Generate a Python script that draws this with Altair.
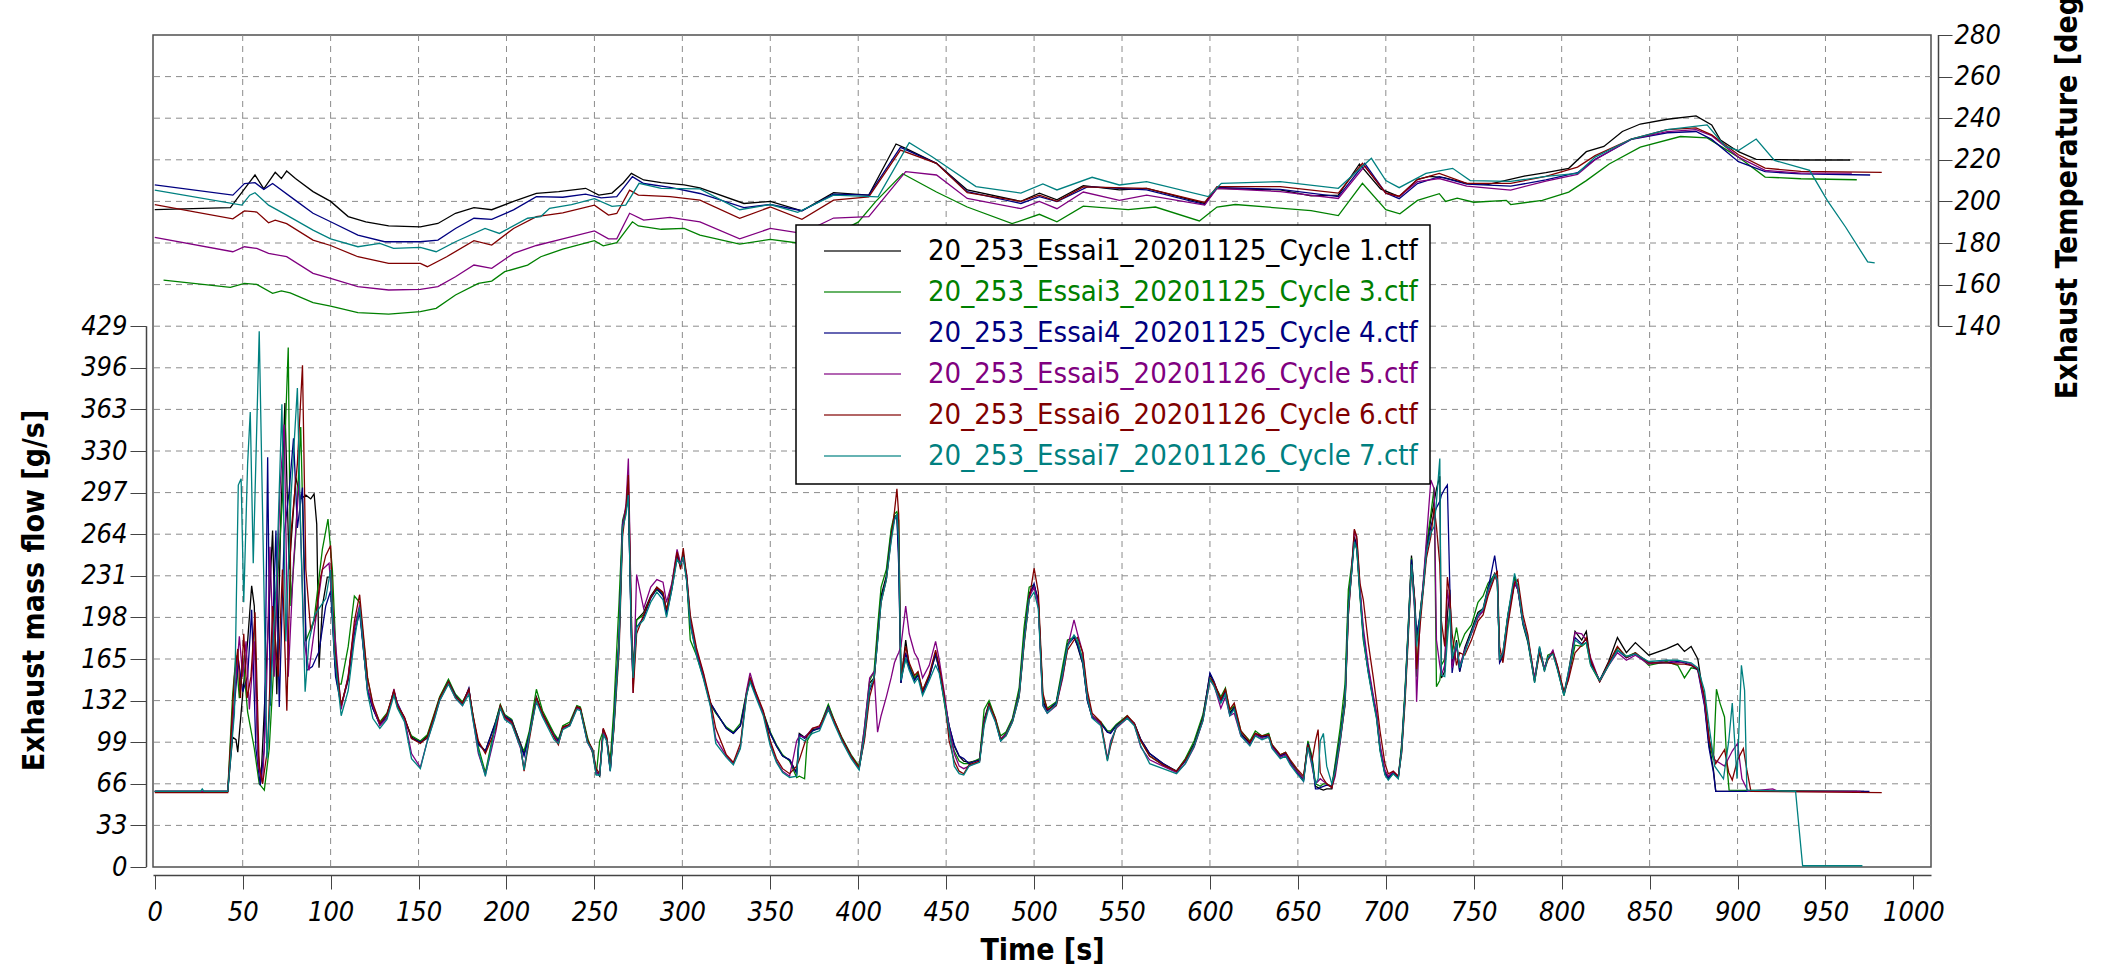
import altair as alt
import pandas as pd

# ---------------------------------------------------------------- series
NAMES = [
    "20_253_Essai1_20201125_Cycle 1.ctf",
    "20_253_Essai3_20201125_Cycle 3.ctf",
    "20_253_Essai4_20201125_Cycle 4.ctf",
    "20_253_Essai5_20201126_Cycle 5.ctf",
    "20_253_Essai6_20201126_Cycle 6.ctf",
    "20_253_Essai7_20201126_Cycle 7.ctf",
]
COLORS = ["#000000", "#008000", "#000080", "#800080", "#800000", "#008080"]

X_TICKS = list(range(0, 1001, 50))
FLOW_TICKS = [0, 33, 66, 99, 132, 165, 198, 231, 264, 297, 330, 363, 396, 429]
TEMP_TICKS = [140, 160, 180, 200, 220, 240, 260, 280]
GRID_X = list(range(50, 951, 50))
GRID_Y = [33 * k for k in range(1, 20)]

# ------------------------------------------------ exhaust mass flow [g/s]
# start of each run (warm-up and first accelerations), [time, flow]
HEAD_1 = [[0, 60], [41.5, 60], [44.3, 103], [46.2, 101], [47.2, 91], [50, 137], [52.8, 179], [55.1, 223],
          [56.6, 207], [58.5, 94], [60.4, 69], [63.2, 151], [67, 267], [69.4, 137], [71.7, 278], [74, 368],
          [76.4, 236], [80.2, 309], [83, 292], [85.9, 295], [88.7, 292], [90.6, 296], [92.1, 272], [93.4, 158],
          [95.3, 207], [98.1, 230], [100, 230], [102.5, 160]]
HEAD_3 = [[0, 60], [41.5, 60], [44.3, 137], [46.2, 168], [48.1, 134], [50, 168], [52.8, 123], [56.6, 94],
          [59.4, 66], [62.3, 61], [65.1, 94], [67.9, 165], [70.2, 236], [72.6, 292], [74.5, 357], [75.9, 412],
          [77.4, 207], [80.2, 264], [83, 349], [85.9, 179], [90.6, 196], [95.3, 252], [98.5, 276], [101, 236],
          [103.8, 145]]
HEAD_4 = [[0, 60], [41.5, 60], [45.3, 128], [47.5, 165], [50, 139], [52.8, 151], [55.1, 204], [57.5, 94],
          [60, 65], [62.3, 94], [64.2, 325], [65.7, 128], [68.9, 267], [70.8, 127], [73.6, 264], [76.4, 298],
          [78.9, 340], [81.1, 269], [84, 301], [86.4, 156], [89.6, 159], [93.4, 171], [97.2, 207], [100, 219],
          [102.8, 151]]
HEAD_5 = [[0, 60], [41.5, 60], [45.3, 134], [48.1, 183], [50, 151], [51.9, 179], [53.8, 125], [56.6, 179],
          [58.9, 80], [61.3, 67], [63.2, 123], [65.5, 254], [67.9, 151], [71.3, 303], [73.6, 351], [75.9, 151],
          [78.9, 241], [82.1, 306], [84.9, 179], [87.7, 156], [91.5, 196], [95.3, 236], [99.1, 241], [101, 207]]
HEAD_6 = [[0, 59], [41.5, 59], [45.3, 151], [47.2, 173], [48.7, 134], [50.6, 185], [52.5, 134], [54.7, 151],
          [57, 202], [59.4, 80], [61.3, 66], [64.2, 94], [67, 207], [70.2, 151], [72.6, 236], [75.1, 124],
          [77.4, 264], [81.1, 320], [84, 398], [85.9, 236], [88.7, 187], [91.5, 199], [94.3, 230], [97.2, 247],
          [100, 255], [101.9, 179]]
HEAD_7 = [[0, 60], [26, 60], [27, 62], [28, 60], [41.5, 60], [45.3, 122], [47.5, 303], [49.1, 308], [50.6, 210],
          [52.8, 320], [54.3, 361], [56, 241], [59.4, 425], [61.9, 236], [63.8, 86], [66.4, 151], [69.4, 236],
          [72.3, 367], [74.5, 179], [77.4, 292], [81.1, 380], [83, 264], [85.5, 139], [87.7, 179], [91, 200],
          [94.3, 207], [97.2, 213], [100, 236], [101.9, 173]]

# main part of the cycle, all runs sampled at the same instants [s]
GRID_T = [
    106, 110, 113.5, 116.5, 121, 124, 128, 132, 136, 138,
    142, 146, 151, 155, 159, 162, 167, 171, 175, 178.6,
    181, 184, 188, 194, 196.5, 199, 203, 208, 210, 213,
    217, 220.5, 227, 229.5, 232, 236, 240, 242, 246, 249,
    251, 253, 255, 257, 259, 261, 264, 266, 268, 269.3,
    271, 272, 274, 278, 282, 285.5, 289, 291, 294, 297,
    299, 300.5, 302.5, 304.5, 308, 312, 316, 319, 325, 329,
    333, 336.5, 338.5, 342, 346, 350, 353.5, 357, 361, 365,
    366.5, 369.5, 371, 374, 378, 383, 386.5, 391, 396, 400.5,
    403.5, 406.5, 409, 411, 413, 416, 418.7, 420.6, 422, 423,
    424.3, 427, 429, 432, 434, 436.6, 440.4, 444, 446, 449,
    451.7, 454.6, 457.4, 460, 463, 469, 471.6, 474.4, 478, 481,
    484, 487.7, 491.5, 494.3, 497.2, 500, 502.4, 505, 507.5, 512.6,
    516.3, 519, 522.7, 524.7, 527.7, 530.3, 533, 538, 541.7, 543.5,
    546.7, 553, 557, 560.7, 565.7, 573.3, 581, 586, 591, 596,
    600, 602.4, 606.2, 608.8, 611.3, 613.8, 617.6, 622.7, 625.8, 629.6,
    633.4, 635.3, 640, 643, 645.7, 649.4, 653.2, 655.7, 658, 660,
    661.5, 662.7, 664.5, 666.4, 669.3, 671.2, 674, 676.8, 678.7, 680.6,
    682.1, 683.5, 685.3, 687.2, 690, 692.9, 694.8, 696.7, 699.5, 701.4,
    704.2, 707.1, 709, 710.9, 712.7, 714.6, 716.5, 717.5, 719.4, 721.2,
    723.1, 725.6, 727.5, 728.8, 730.7, 731.6, 733.5, 735, 736.4, 737.7,
    740.2, 742, 744.9, 748.7, 752.4, 755.3, 758.1, 761.9, 763.4, 764.7,
    766.6, 769.4, 773.2, 775.1, 778, 780.8, 784.6, 787.4, 790.2, 792.1,
    795, 797.5, 801.3, 803.8, 807.6, 811.4, 814, 816.5, 821.6, 826.7,
    831.7, 836.8, 841.9, 849.5, 859.6, 866, 869.8, 873.6, 877.4,
]
FLOW_1 = [
    128, 150, 190, 205, 140, 126, 113, 120, 140, 128,
    118, 103, 99, 104, 120, 134, 148, 135, 130, 141,
    119, 98, 92, 116, 128, 119, 116, 98, 90, 106,
    135, 122, 105, 100, 111, 113, 127, 126, 101, 93,
    76, 72, 109, 102, 77, 115, 181, 272, 284, 296,
    185, 154, 196, 202, 215, 222, 217, 202, 222, 248,
    239, 249, 228, 194, 170, 151, 130, 123, 110, 106,
    112, 138, 149, 136, 122, 106, 96, 88, 85, 75,
    106, 103, 105, 109, 110, 128, 115, 101, 88, 79,
    106, 146, 150, 185, 215, 231, 265, 278, 279, 249,
    146, 180, 159, 149, 153, 138, 151, 170, 157, 133,
    112, 96, 88, 84, 83, 85, 117, 130, 117, 101,
    106, 117, 138, 183, 217, 223, 212, 132, 124, 130,
    156, 177, 183, 175, 161, 132, 119, 114, 107, 107,
    112, 119, 114, 101, 90, 82, 76, 85, 98, 119,
    153, 146, 132, 140, 122, 127, 106, 98, 106, 103,
    105, 96, 88, 90, 83, 76, 69, 99, 86, 64,
    63, 62, 61, 62, 62, 80, 103, 134, 211, 236,
    262, 255, 219, 185, 157, 134, 120, 95, 75, 71,
    75, 71, 95, 137, 188, 247, 208, 180, 200, 223,
    253, 276, 290, 300, 310, 150, 155, 200, 220, 160,
    180, 155, 174, 188, 202, 205, 222, 233, 228, 163,
    168, 199, 230, 222, 194, 180, 149, 174, 157, 166,
    171, 159, 138, 154, 187, 180, 187, 162, 148, 163,
    182, 170, 178, 168, 173, 177, 171, 175, 165,
]
FLOW_3 = [
    145, 175, 215, 210, 150, 128, 115, 122, 138, 127,
    117, 104, 100, 105, 122, 135, 149, 137, 131, 140,
    120, 95, 75, 116, 129, 121, 117, 97, 92, 108,
    141, 124, 106, 101, 112, 115, 128, 127, 103, 90,
    73, 100, 108, 100, 85, 125, 210, 275, 285, 300,
    190, 160, 196, 200, 214, 220, 216, 204, 224, 249,
    240, 248, 228, 180, 168, 150, 129, 122, 111, 107,
    114, 139, 150, 137, 123, 107, 97, 89, 84, 71,
    72, 70, 100, 108, 111, 129, 116, 102, 89, 80,
    110, 148, 155, 190, 222, 236, 268, 280, 282, 275,
    150, 165, 160, 150, 154, 140, 152, 168, 158, 130,
    106, 92, 84, 82, 82, 86, 125, 132, 118, 104,
    107, 118, 142, 190, 222, 224, 210, 135, 126, 131,
    160, 180, 182, 178, 165, 136, 120, 115, 108, 108,
    113, 120, 113, 100, 88, 81, 76, 86, 100, 121,
    150, 145, 135, 142, 124, 128, 108, 100, 108, 104,
    106, 97, 89, 91, 84, 77, 70, 100, 88, 66,
    65, 64, 66, 66, 64, 82, 110, 145, 220, 240,
    258, 252, 215, 180, 155, 132, 118, 93, 74, 70,
    74, 71, 98, 140, 190, 245, 205, 151, 200, 222,
    255, 280, 301, 143, 148, 160, 165, 190, 200, 170,
    190, 175, 185, 192, 210, 215, 225, 232, 226, 166,
    170, 200, 228, 220, 192, 178, 147, 172, 156, 168,
    170, 158, 136, 150, 176, 175, 178, 160, 147, 160,
    174, 167, 170, 160, 163, 160, 150, 158, 157,
]
FLOW_4 = [
    128, 148, 185, 202, 140, 126, 113, 120, 139, 130,
    118, 102, 99, 102, 119, 133, 147, 136, 129, 142,
    118, 97, 92, 115, 127, 120, 116, 97, 88, 105,
    134, 121, 104, 100, 110, 113, 127, 125, 100, 92,
    75, 73, 109, 101, 76, 112, 180, 272, 283, 296,
    180, 145, 190, 198, 213, 221, 215, 200, 220, 246,
    238, 247, 227, 193, 170, 151, 130, 123, 110, 106,
    112, 137, 148, 136, 122, 106, 96, 88, 85, 74,
    105, 102, 104, 108, 110, 127, 114, 101, 88, 78,
    102, 140, 148, 180, 212, 229, 262, 276, 278, 240,
    146, 170, 158, 148, 152, 138, 150, 169, 156, 133,
    112, 97, 88, 86, 82, 85, 116, 129, 116, 100,
    105, 116, 137, 180, 215, 225, 210, 130, 124, 130,
    155, 176, 182, 176, 162, 132, 119, 114, 107, 106,
    112, 119, 114, 101, 90, 82, 76, 84, 97, 118,
    154, 147, 131, 139, 121, 126, 105, 97, 105, 103,
    104, 96, 88, 90, 83, 75, 68, 98, 85, 62,
    62, 63, 64, 65, 64, 78, 102, 132, 205, 234,
    260, 254, 218, 184, 156, 133, 119, 94, 74, 70,
    75, 71, 94, 136, 186, 244, 210, 185, 198, 220,
    250, 270, 280, 285, 290, 295, 300, 303, 222, 154,
    178, 155, 172, 186, 200, 203, 220, 247, 232, 162,
    167, 198, 225, 220, 193, 179, 148, 173, 157, 166,
    170, 158, 137, 152, 182, 177, 181, 162, 148, 161,
    172, 166, 169, 162, 162, 163, 162, 160, 156,
]
FLOW_5 = [
    125, 152, 190, 208, 142, 128, 112, 118, 141, 129,
    118, 90, 79, 100, 118, 132, 146, 134, 128, 140,
    117, 90, 73, 108, 127, 118, 114, 94, 78, 104,
    133, 120, 104, 98, 110, 112, 126, 125, 99, 91,
    74, 75, 108, 102, 77, 110, 178, 270, 288, 324,
    200, 138, 232, 205, 222, 228, 226, 210, 225, 252,
    241, 245, 232, 196, 172, 153, 128, 102, 88, 82,
    95, 140, 154, 137, 122, 98, 84, 76, 72, 100,
    104, 103, 105, 110, 111, 126, 115, 100, 87, 78,
    110, 150, 155, 107, 120, 135, 150, 162, 167, 170,
    175, 207, 185, 170, 165, 150, 160, 179, 165, 138,
    110, 90, 80, 78, 80, 84, 115, 128, 116, 102,
    105, 116, 136, 178, 214, 222, 208, 128, 122, 128,
    150, 174, 196, 185, 170, 135, 120, 113, 86, 100,
    110, 118, 113, 95, 85, 80, 75, 82, 95, 116,
    148, 144, 126, 135, 120, 122, 104, 97, 105, 102,
    103, 95, 87, 89, 82, 76, 70, 96, 80, 66,
    68, 70, 68, 66, 63, 72, 98, 130, 200, 238,
    267, 260, 222, 190, 160, 136, 122, 97, 77, 72,
    76, 72, 92, 134, 185, 240, 200, 131, 195, 225,
    260, 307, 300, 180, 160, 152, 160, 220, 205, 158,
    175, 160, 172, 185, 198, 203, 218, 232, 226, 165,
    170, 197, 226, 220, 195, 181, 150, 172, 158, 165,
    172, 160, 137, 150, 186, 185, 180, 166, 147, 160,
    170, 164, 168, 161, 164, 162, 163, 161, 157,
]
FLOW_6 = [
    128, 150, 195, 216, 150, 130, 114, 121, 140, 128,
    119, 102, 98, 103, 121, 134, 147, 135, 130, 141,
    120, 100, 90, 110, 128, 119, 115, 96, 76, 101,
    134, 122, 103, 97, 111, 113, 127, 126, 101, 93,
    78, 74, 110, 103, 79, 108, 170, 262, 286, 311,
    200, 138, 185, 200, 214, 222, 218, 204, 222, 250,
    236, 253, 230, 200, 174, 154, 131, 110, 89, 83,
    98, 136, 150, 138, 124, 100, 86, 78, 74, 80,
    85, 98, 104, 110, 112, 125, 116, 101, 88, 79,
    100, 135, 148, 180, 210, 228, 260, 282, 300, 280,
    150, 175, 162, 152, 155, 140, 153, 172, 160, 135,
    100, 84, 76, 74, 81, 84, 114, 129, 118, 101,
    104, 115, 135, 176, 212, 237, 218, 138, 125, 128,
    152, 172, 180, 182, 170, 140, 122, 115, 85, 96,
    111, 120, 114, 100, 88, 81, 76, 85, 96, 117,
    150, 146, 133, 141, 125, 130, 108, 99, 106, 104,
    105, 97, 89, 91, 85, 78, 72, 97, 84, 100,
    109, 75, 70, 66, 63, 75, 100, 128, 200, 235,
    268, 262, 225, 212, 178, 150, 130, 108, 82, 74,
    76, 72, 90, 130, 180, 238, 212, 157, 190, 218,
    245, 262, 285, 270, 240, 195, 175, 230, 215, 185,
    160, 170, 168, 180, 195, 200, 215, 230, 235, 175,
    162, 192, 225, 228, 200, 184, 147, 170, 156, 164,
    170, 160, 139, 148, 170, 176, 182, 164, 147, 162,
    175, 166, 170, 162, 162, 161, 161, 160, 157,
]
FLOW_7 = [
    120, 140, 180, 206, 138, 118, 110, 117, 136, 126,
    115, 86, 78, 100, 117, 132, 145, 134, 128, 137,
    116, 92, 72, 114, 126, 117, 113, 95, 77, 104,
    131, 119, 101, 98, 109, 112, 125, 124, 99, 92,
    73, 73, 105, 100, 76, 110, 176, 268, 280, 295,
    185, 150, 190, 196, 210, 218, 212, 198, 220, 244,
    240, 246, 226, 192, 168, 149, 127, 98, 87, 81,
    94, 136, 147, 134, 120, 96, 83, 75, 71, 72,
    103, 100, 102, 106, 108, 125, 113, 99, 86, 77,
    104, 142, 150, 178, 210, 228, 258, 275, 280, 260,
    148, 165, 156, 146, 150, 136, 148, 160, 154, 131,
    108, 80, 74, 73, 80, 83, 112, 127, 115, 100,
    104, 115, 135, 178, 212, 218, 205, 128, 122, 129,
    154, 175, 184, 180, 163, 134, 118, 112, 84, 98,
    111, 118, 112, 96, 82, 78, 74, 82, 96, 116,
    149, 143, 130, 137, 120, 125, 104, 96, 104, 101,
    103, 94, 86, 88, 81, 74, 68, 95, 82, 66,
    70, 100, 106, 80, 66, 76, 100, 130, 205, 234,
    258, 252, 216, 182, 154, 131, 117, 92, 73, 69,
    74, 70, 92, 135, 185, 240, 205, 175, 198, 220,
    250, 265, 270, 290, 324, 152, 151, 180, 205, 165,
    178, 158, 170, 186, 200, 205, 220, 232, 228, 164,
    170, 200, 233, 222, 194, 180, 146, 175, 155, 166,
    169, 157, 136, 155, 180, 176, 178, 160, 148, 160,
    172, 167, 169, 163, 164, 164, 163, 162, 158,
]

# end of each run (deceleration and idle), [time, flow]
TAIL_1 = [[881.2, 130], [883.7, 98], [886.3, 77], [887.6, 60], [972, 60]]
TAIL_3 = [[881.2, 135], [883.7, 100], [886.3, 85], [888, 141], [890, 130], [892.6, 119], [894, 80],
          [895.2, 61], [968, 60]]
TAIL_4 = [[881.2, 128], [883.7, 95], [886.3, 75], [887.6, 60], [975, 60]]
TAIL_5 = [[881.2, 130], [884, 100], [887, 85], [892.6, 80], [897, 92], [900, 98], [902.5, 70], [906, 60],
          [920, 62], [923, 60], [970, 60]]
TAIL_6 = [[881.2, 135], [884, 100], [887.6, 82], [892.6, 93], [895, 75], [897, 69], [900, 85], [903.3, 94],
          [905.3, 77], [907.6, 60], [982, 59]]
TAIL_7 = [[881.2, 140], [884, 110], [887, 80], [889, 76], [892, 70], [895, 100], [897, 130], [899.7, 70],
          [902.2, 160], [904, 140], [905.3, 61], [933, 60], [937, 1], [971, 1]]

# ------------------------------------------- exhaust temperature [degC]
TEMP_1 = [[0, 196], [43, 197], [55, 210.5], [57, 212.7], [62, 206], [68.5, 214], [72, 211], [75, 214.6],
          [80, 211], [90, 204.7], [100, 200], [110, 192.7], [120, 190.2], [133, 188.2], [151, 187.8],
          [161, 189.4], [171, 194.3], [181.5, 197], [191.6, 196], [204, 200], [217, 203.9], [229.7, 204.7],
          [245, 206.3], [252.5, 203], [260, 204], [266.5, 209], [271, 213.5], [278, 210.3], [288, 209],
          [301, 207.9], [310, 206.5], [335, 199], [350, 200], [368, 195.5], [386, 204.2], [406, 203],
          [421.5, 227.6], [427, 225.5], [444.5, 218.3], [462, 205.5], [492.5, 200], [503, 204], [513, 200.8],
          [528, 207.6], [548.5, 205.5], [564, 206.3], [597, 199], [604, 206.3], [640, 205.5], [657.5, 202.7],
          [673, 203], [685, 218], [697, 206], [707.6, 202.3], [718, 210.6], [725, 212], [733, 211.4],
          [746, 208.7], [758.4, 208.2], [778.7, 212.2], [791, 213.8], [804, 215.9], [814, 223.9], [824, 226.4],
          [834.5, 233.6], [844.7, 237.2], [860, 239.5], [876.4, 241.1], [885.3, 236.8], [890.3, 229.5],
          [900.5, 223.9], [910.6, 220.2], [936, 219.9], [964, 219.9]]
TEMP_3 = [[5, 162.2], [43, 158.7], [51, 160.6], [58, 160.1], [67, 155.8], [72, 157], [77, 156], [90, 151.3],
          [100, 149.7], [115.5, 146.5], [133, 145.8], [151, 147], [160, 148.6], [171, 155], [184, 160.6],
          [191.6, 161.7], [199, 166.2], [212, 169.4], [219.5, 173.4], [232, 177], [250, 181.1], [255, 178.6],
          [262.7, 180.2], [271.6, 190.2], [275, 188.2], [288, 186.6], [301, 187], [310, 183.8], [332.6, 179.5],
          [350, 181.7], [365.6, 180], [386, 184], [400, 190], [410, 200], [425.3, 213.3], [444.5, 204.5],
          [462, 197.3], [487.5, 189.3], [503, 193.8], [513, 190.2], [528, 197.7], [553.5, 196], [569, 197.3],
          [594, 190.6], [604, 197.3], [614.4, 198.5], [657.5, 195.6], [673, 193.2], [686.7, 208.7], [700, 196],
          [708, 194], [718, 200.5], [730.4, 203.7], [734, 200], [740.6, 201.6], [750, 199.6], [768.5, 200.5],
          [771, 198.5], [789, 200.5], [804, 204.5], [814, 210], [827, 218], [844.7, 226.1], [867.5, 231.2],
          [882.7, 230.5], [900.5, 221.3], [915.7, 211.7], [936, 210.9], [967.8, 210.4]]
TEMP_4 = [[0, 207.9], [44.4, 203], [51, 208.6], [57, 209], [62, 205.8], [67, 208.6], [80, 200.5], [90, 194.3],
          [100, 190.2], [115.5, 183.8], [130.7, 180.6], [151, 180.6], [161, 181.4], [171, 187], [181.5, 191.9],
          [191.6, 191.4], [204, 195.9], [217, 202.3], [232, 202], [245, 203.5], [253.8, 201.7], [262.7, 202.3],
          [271.6, 211.9], [278, 208.6], [293, 206.7], [310, 203.8], [335, 197], [350, 198.5], [368, 195.5],
          [386, 203.5], [406, 203], [424, 226], [444.5, 218.3], [462, 204.7], [492.5, 199], [503, 202.3],
          [513, 199.9], [530.6, 207.1], [564, 205.5], [597, 198.5], [604, 206.7], [640, 205.8], [673, 202.3],
          [688, 218.3], [700, 204], [707.6, 201.3], [718, 208.6], [730.4, 211.9], [746, 208.3], [771, 207.3],
          [791, 210.3], [809, 213.8], [819, 220.2], [839.6, 229.8], [860, 233], [876.4, 233.6], [885.3, 229.8],
          [900.5, 219.1], [915.7, 214.3], [936, 213.2], [975.4, 212.7]]
TEMP_5 = [[0, 182.7], [44.4, 175.8], [51, 178.2], [58, 177.4], [64.7, 175], [75, 173.4], [90, 165.4], [100, 163],
          [115.5, 159], [133, 157.4], [151, 157.7], [161, 159], [171, 163.8], [181.5, 169.4], [191.6, 167.8],
          [204, 175], [217, 178.8], [232, 182], [250, 185.8], [258, 182], [262.7, 182], [270, 194.3], [278, 191],
          [293, 192.3], [310, 190.2], [332.6, 182], [350, 187], [368, 184.6], [386, 192], [406, 192.7],
          [427, 214.3], [444.5, 212.7], [462, 201.4], [492.5, 196.5], [503, 200], [513, 196.5], [528, 204.5],
          [548.5, 200.5], [564, 203], [597, 198.2], [604, 206.3], [640, 204.7], [673, 201.4], [688, 217],
          [700, 204], [707.6, 202.3], [718, 209.5], [730.4, 211], [746, 207.3], [771, 205.4], [791, 209.8],
          [809, 213], [819, 220], [839.6, 230], [860, 233.5], [876.4, 234.5], [885.3, 231.6], [900.5, 221.3],
          [915.7, 214.9], [936, 213.6], [965, 213.6]]
TEMP_6 = [[0, 198.5], [44.4, 191.6], [51, 195.4], [58, 194.9], [64.7, 189.7], [68.5, 191], [75, 189.3],
          [90, 181.4], [100, 178.8], [115.5, 173.4], [133, 170.2], [151, 170.2], [155, 168.6], [166, 173.4],
          [181.5, 181.1], [191.6, 179], [204, 187], [217, 192.7], [232, 194.5], [250, 198.2], [258, 193.4],
          [262.7, 194.2], [270, 205.4], [275, 203], [293, 202.3], [310, 200.6], [332.6, 191.9], [350, 197.3],
          [368, 191.4], [386, 200.6], [406, 202.2], [424, 224.7], [444.5, 218.3], [462, 204.2], [492.5, 200],
          [503, 203], [513, 200], [528, 207], [564, 206.3], [597, 199.5], [604, 207.1], [640, 207.1], [673, 204],
          [686.7, 218.3], [700, 204], [707.6, 202.5], [718, 210.5], [730.4, 213.5], [746, 208.7], [771, 208.7],
          [791, 212], [809, 216.5], [819, 222], [839.6, 230], [860, 234.5], [876.4, 235.3], [885.3, 232],
          [900.5, 222.4], [915.7, 216], [936, 214.4], [982, 214]]
TEMP_7 = [[0, 205.4], [49.5, 198.2], [54, 203], [57, 204.2], [64.7, 198.2], [75, 193.4], [90, 186.2], [100, 182],
          [115.5, 178.2], [128, 179.8], [135.8, 177.4], [151, 177.9], [160, 175.8], [171, 180.6], [187.8, 187],
          [196, 184.6], [212, 191.9], [219.5, 192.7], [224.5, 196.7], [237, 198.5], [250, 201.3], [260, 197.6],
          [267.8, 198.2], [275.4, 208.7], [288, 206.3], [310, 206], [332.6, 196], [350, 198.5], [365.6, 194.7],
          [386, 203], [411.3, 202.2], [429, 228.2], [442, 221.5], [467, 207.1], [492.5, 204], [505, 208.4],
          [513, 205.5], [533, 211.6], [548.5, 207.9], [564, 209.5], [599, 202.3], [606.5, 208.7], [640, 209.5],
          [673, 206.3], [691.8, 220.7], [700, 210], [707.6, 206.6], [722.8, 213.5], [738, 215.9], [748, 210],
          [771, 209.6], [791, 212], [809, 213.5], [819, 221.3], [839.6, 230], [860, 234.5], [882.7, 236.8],
          [893, 226.4], [900.5, 224.5], [910.6, 230], [921, 219.7], [941, 214.9], [951, 200.5], [961.4, 187.7],
          [974, 170.9], [978, 170.4]]

# ---------------------------------------------------------------- tables
HEADS = [HEAD_1, HEAD_3, HEAD_4, HEAD_5, HEAD_6, HEAD_7]
FLOWS = [FLOW_1, FLOW_3, FLOW_4, FLOW_5, FLOW_6, FLOW_7]
TAILS = [TAIL_1, TAIL_3, TAIL_4, TAIL_5, TAIL_6, TAIL_7]
TEMPS = [TEMP_1, TEMP_3, TEMP_4, TEMP_5, TEMP_6, TEMP_7]

flow_rows = []
for name, head, vals, tail in zip(NAMES, HEADS, FLOWS, TAILS):
    pts = list(head) + [[t, v] for t, v in zip(GRID_T, vals)] + list(tail)
    flow_rows += [{"series": name, "t": t, "flow": v} for t, v in pts]
flow_df = pd.DataFrame(flow_rows)

temp_rows = []
for name, pts in zip(NAMES, TEMPS):
    temp_rows += [{"series": name, "t": t, "temp": v} for t, v in pts]
temp_df = pd.DataFrame(temp_rows)

# ---------------------------------------------------------------- styling
W, H = 1778, 832
NARROW = "DejaVu Sans Condensed, sans-serif"
AXIS_GREY = "#444444"
GRID_GREY = "#8c8c8c"
LABEL_SIZE = 27
TITLE_SIZE = 30

x_scale = alt.Scale(domain=[-1, 1010], nice=False, zero=False)
flow_scale = alt.Scale(domain=[0, 660], nice=False, zero=False)
temp_scale = alt.Scale(domain=[-120, 280], nice=False, zero=False)
color = alt.Color("series:N", scale=alt.Scale(domain=NAMES, range=COLORS), legend=None)

x_axis = alt.Axis(
    values=X_TICKS, format="d", title="Time [s]", offset=8, grid=False,
    domainColor=AXIS_GREY, domainWidth=1.5, tickColor=AXIS_GREY, tickSize=14, tickWidth=1,
    labelFont=NARROW, labelFontStyle="italic", labelFontSize=LABEL_SIZE, labelColor="black",
    labelBaseline="alphabetic", labelPadding=31, labelFlush=False, labelOverlap=False,
    titleFont=NARROW, titleFontWeight="bold", titleFontSize=TITLE_SIZE, titleColor="black",
    titleBaseline="alphabetic", titleY=84,
)
flow_axis = alt.Axis(
    orient="left", values=FLOW_TICKS, format="d", offset=7, domain=False, grid=False,
    tickColor=AXIS_GREY, tickSize=16, tickWidth=1,
    labelFont=NARROW, labelFontStyle="italic", labelFontSize=LABEL_SIZE, labelColor="black",
    labelPadding=3, labelFlush=False, labelOverlap=False,
    title="Exhaust mass flow [g/s]", titleFont=NARROW, titleFontWeight="bold", titleFontSize=TITLE_SIZE,
    titleColor="black", titleAngle=270, titleAlign="center", titleBaseline="alphabetic",
    titleX=-103, titleY=555,
)
temp_axis = alt.Axis(
    orient="right", values=TEMP_TICKS, format="d", offset=7, domain=False, grid=False,
    tickColor=AXIS_GREY, tickSize=14, tickWidth=1,
    labelFont=NARROW, labelFontStyle="italic", labelFontSize=LABEL_SIZE, labelColor="black",
    labelPadding=2, labelFlush=False, labelOverlap=False,
    title="Exhaust Temperature [degC]", titleFont=NARROW, titleFontWeight="bold", titleFontSize=TITLE_SIZE,
    titleColor="black", titleAngle=270, titleAlign="center", titleBaseline="alphabetic",
    titleX=138, titleY=146,
)

X = alt.X("t:Q", scale=x_scale, axis=x_axis)

# dashed grid
vgrid = alt.Chart(pd.DataFrame({"t": GRID_X})).mark_rule(
    color=GRID_GREY, strokeWidth=1, strokeDash=[6, 5]
).encode(x=X)
hgrid = alt.Chart(pd.DataFrame({"g": GRID_Y})).mark_rule(
    color=GRID_GREY, strokeWidth=1, strokeDash=[6, 5]
).encode(y=alt.Y("g:Q", scale=flow_scale, axis=None))

flow_lines = alt.Chart(flow_df).mark_line(strokeWidth=1.3).encode(
    x=X, y=alt.Y("flow:Q", scale=flow_scale, axis=flow_axis), color=color
)
temp_lines = alt.Chart(temp_df).mark_line(strokeWidth=1.3).encode(
    x=X, y=alt.Y("temp:Q", scale=temp_scale, axis=temp_axis), color=color
)

# axis spines limited to the labelled range of each quantity
left_spine = alt.Chart(pd.DataFrame({"lo": [0], "hi": [429]})).mark_rule(
    color=AXIS_GREY, strokeWidth=1.5
).encode(x=alt.value(-6.5), y=alt.Y("lo:Q", scale=flow_scale, axis=None), y2="hi:Q")
right_spine = alt.Chart(pd.DataFrame({"lo": [140], "hi": [280]})).mark_rule(
    color=AXIS_GREY, strokeWidth=1.5
).encode(x=alt.value(W + 7.5), y=alt.Y("lo:Q", scale=temp_scale, axis=None), y2="hi:Q")

# boxed legend inside the plot
legend_df = pd.DataFrame({"series": NAMES})
leg_y = alt.Y("series:N", axis=None,
              scale=alt.Scale(type="point", domain=NAMES, range=[216, 421], padding=0))
legend_box = alt.Chart(pd.DataFrame({"k": [0]})).mark_rect(
    fill="white", stroke="black", strokeWidth=1.5
).encode(x=alt.value(643), x2=alt.value(1277), y=alt.value(190), y2=alt.value(449))
legend_lines = alt.Chart(legend_df).mark_rule(strokeWidth=2, opacity=0.6).encode(
    x=alt.value(671), x2=alt.value(748), y=leg_y, color=color
)
legend_text = alt.Chart(legend_df).mark_text(
    align="left", baseline="middle", font=NARROW, fontSize=29
).encode(x=alt.value(775), y=leg_y, text="series:N", color=color)

chart = alt.layer(
    hgrid, vgrid, flow_lines, temp_lines, legend_box, legend_lines, legend_text, left_spine, right_spine
).resolve_scale(
    y="independent"
).properties(
    width=W, height=H,
    autosize=alt.AutoSizeParams(type="none"),
    padding={"left": 153, "top": 35, "right": 172, "bottom": 101},
    background="white",
).configure_view(
    stroke="#505050", strokeWidth=1.5
)

chart.save("out.html", embed_options={"renderer": "svg", "actions": False})
